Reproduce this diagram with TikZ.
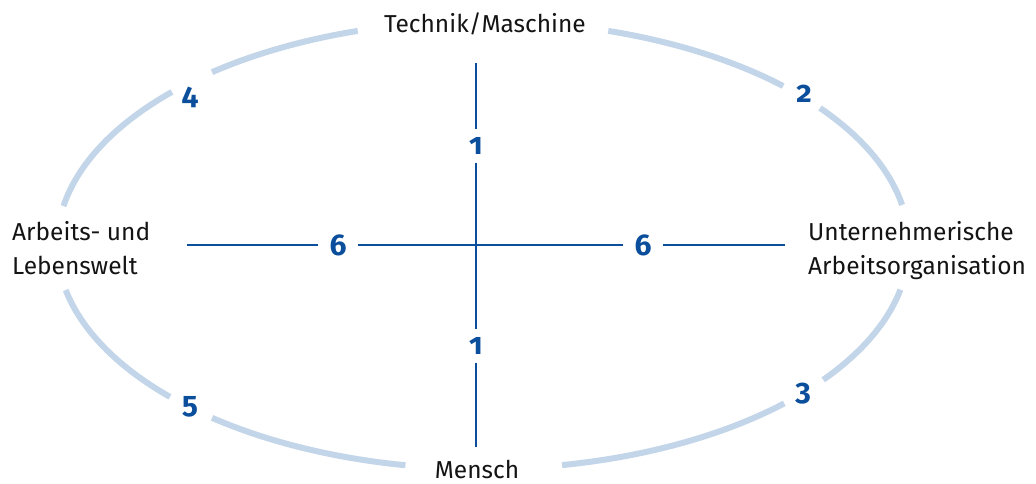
\documentclass[tikz,border=0pt]{standalone}
\usepackage{fontspec}
\setmainfont{Fira Sans}
\newfontfamily\numfont[Numbers=OldStyle, RawFeature={+onum}]{Fira Sans}
\usepackage{tikz}
\definecolor{ringBlue}{HTML}{C3D5E9}
\definecolor{crossBlue}{HTML}{0B4F9C}
\tikzset{field-label/.style={font=\fontsize{24.5}{34}\selectfont, inner sep=0pt, text=black!92}}
\tikzset{field-number/.style={font=\numfont\bfseries\fontsize{30}{32}\selectfont, text=crossBlue, inner xsep=11pt, inner ysep=8pt}}
\tikzset{ring-arc/.style={draw=ringBlue, line width=6pt}}
\tikzset{cross-line/.style={draw=crossBlue, line width=2.6pt}}

\begin{document}
\begin{tikzpicture}[x=1pt, y=1pt]
    \useasboundingbox (0,0) rectangle (1036,-484);

    % ring, broken at the labels
    \coordinate (ring-center) at (483,-245);
    \foreach \a/\b in {10.3/37.7, 45.2/72.9, 107.1/129.5, 136.9/170,
                       191.6/222.7, 230.5/259.5, 280.7/315, 323/348.5}
        \draw[ring-arc] (ring-center) ++(\a:426pt and 224pt)
            arc[start angle=\a, end angle=\b, x radius=426pt, y radius=224pt];

    % the four fields
    \node[field-label, anchor=base] (technik) at (485,-33) {Technik/Maschine};
    \node[field-label, anchor=north west, align=left] (lebenswelt) at (12,-221) {Arbeits- und\\Lebenswelt};
    \node[field-label, anchor=north west, align=left] (organisation) at (808,-221) {Unternehmerische\\Arbeitsorganisation};
    \node[field-label, anchor=base] (mensch) at (477,-478) {Mensch};

    % numbers on the ring
    \node[field-number] (num-4) at (190,-97) {4};
    \node[field-number] (num-2) at (804,-94) {2};
    \node[field-number] (num-5) at (190,-407) {5};
    \node[field-number] (num-3) at (803,-394) {3};

    % the cross
    \coordinate (axis-top) at (476,-63);
    \coordinate (axis-bottom) at (476,-447);
    \coordinate (axis-left) at (187,-245);
    \coordinate (axis-right) at (785,-245);
    \node[field-number] (one-top) at (476,-146) {1};
    \node[field-number] (one-bottom) at (476,-346) {1};
    \node[field-number] (six-left) at (338,-245) {6};
    \node[field-number] (six-right) at (643,-245) {6};
    \draw[cross-line] (axis-top) -- (one-top) -- (one-bottom) -- (axis-bottom);
    \draw[cross-line] (axis-left) -- (six-left) -- (six-right) -- (axis-right);
\end{tikzpicture}
\end{document}
